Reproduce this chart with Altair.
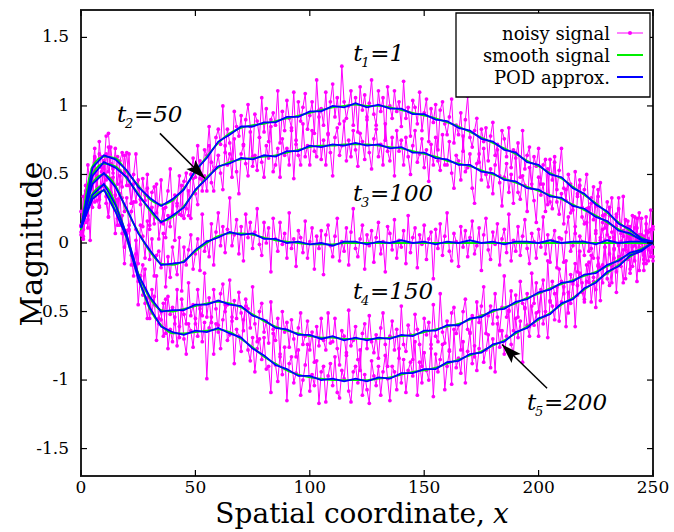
import altair as alt
import pandas as pd

# ---------------- data ----------------
X_KNOTS = list(range(0, 251, 5))
CURVES = ["t1", "t2", "t3", "t4", "t5"]

SMOOTH = {
    "t1": [0.10,0.56,0.63,0.62,0.52,0.42,0.32,0.28,0.31,0.40,0.52,0.63,0.73,0.80,0.84,0.86,0.87,0.89,0.91,0.93,0.95,0.97,0.99,1.00,1.01,1.00,1.00,0.99,0.97,0.95,0.93,0.91,0.88,0.85,0.81,0.77,0.73,0.69,0.65,0.60,0.56,0.51,0.47,0.41,0.35,0.29,0.22,0.15,0.09,0.04,0.00],
    "t2": [0.10,0.50,0.58,0.56,0.47,0.36,0.24,0.16,0.19,0.27,0.38,0.48,0.55,0.59,0.61,0.62,0.63,0.64,0.66,0.68,0.70,0.71,0.71,0.72,0.72,0.72,0.71,0.70,0.69,0.67,0.65,0.63,0.60,0.58,0.56,0.53,0.50,0.47,0.44,0.41,0.38,0.35,0.32,0.28,0.24,0.20,0.15,0.10,0.06,0.03,0.00],
    "t3": [0.10,0.44,0.50,0.42,0.24,0.08,-0.06,-0.15,-0.16,-0.13,-0.06,0.00,0.05,0.07,0.07,0.06,0.04,0.02,0.01,0.00,-0.01,-0.01,-0.01,0.00,0.00,0.00,0.00,0.00,0.00,0.00,0.00,0.00,0.00,0.00,0.00,0.00,0.00,0.00,0.00,0.00,0.00,0.00,0.00,0.00,0.00,0.00,0.00,0.00,0.00,0.00,0.00],
    "t4": [0.10,0.36,0.42,0.29,0.05,-0.22,-0.40,-0.49,-0.50,-0.48,-0.46,-0.44,-0.43,-0.44,-0.47,-0.52,-0.57,-0.61,-0.64,-0.66,-0.68,-0.69,-0.69,-0.70,-0.70,-0.70,-0.70,-0.69,-0.68,-0.67,-0.65,-0.63,-0.61,-0.59,-0.56,-0.53,-0.50,-0.47,-0.44,-0.40,-0.37,-0.33,-0.30,-0.27,-0.24,-0.21,-0.17,-0.12,-0.08,-0.04,0.00],
    "t5": [0.10,0.33,0.38,0.24,0.03,-0.25,-0.48,-0.60,-0.66,-0.66,-0.65,-0.64,-0.63,-0.65,-0.70,-0.76,-0.83,-0.88,-0.93,-0.96,-0.98,-0.99,-1.00,-1.00,-1.00,-1.00,-0.99,-0.98,-0.96,-0.94,-0.93,-0.91,-0.88,-0.85,-0.82,-0.79,-0.75,-0.71,-0.66,-0.61,-0.56,-0.51,-0.45,-0.40,-0.34,-0.28,-0.22,-0.16,-0.10,-0.05,0.00],
}

POD = {
    "t1": [0.11,0.55,0.64,0.61,0.53,0.41,0.33,0.27,0.32,0.39,0.53,0.62,0.74,0.79,0.85,0.85,0.88,0.88,0.92,0.92,0.96,0.96,1.00,0.99,1.02,0.99,1.01,0.98,0.98,0.94,0.94,0.90,0.89,0.84,0.82,0.76,0.74,0.68,0.66,0.59,0.57,0.50,0.48,0.40,0.36,0.28,0.23,0.14,0.10,0.03,0.01],
    "t2": [0.11,0.49,0.59,0.55,0.48,0.35,0.25,0.15,0.20,0.26,0.39,0.47,0.56,0.58,0.62,0.61,0.64,0.63,0.67,0.67,0.71,0.70,0.72,0.71,0.73,0.71,0.72,0.69,0.70,0.66,0.66,0.62,0.61,0.57,0.57,0.52,0.51,0.46,0.45,0.40,0.39,0.34,0.33,0.27,0.25,0.19,0.16,0.09,0.07,0.02,0.01],
    "t3": [0.11,0.43,0.51,0.41,0.25,0.07,-0.05,-0.16,-0.15,-0.14,-0.05,0.01,0.04,0.08,0.06,0.07,0.03,0.03,0.00,0.01,-0.01,0.00,-0.02,0.01,0.01,-0.01,0.01,0.00,0.02,0.00,0.01,-0.01,0.01,0.00,0.02,0.00,0.01,-0.01,0.01,0.01,0.00,0.02,0.00,0.01,0.01,-0.01,0.02,0.00,0.01,0.01,0.00],
    "t4": [0.11,0.35,0.43,0.28,0.06,-0.23,-0.39,-0.50,-0.49,-0.49,-0.45,-0.45,-0.42,-0.45,-0.46,-0.53,-0.56,-0.62,-0.63,-0.67,-0.67,-0.70,-0.68,-0.71,-0.69,-0.71,-0.69,-0.70,-0.67,-0.68,-0.64,-0.64,-0.60,-0.60,-0.55,-0.54,-0.49,-0.48,-0.43,-0.41,-0.36,-0.34,-0.29,-0.28,-0.23,-0.22,-0.16,-0.13,-0.07,-0.05,0.00],
    "t5": [0.11,0.32,0.39,0.23,0.04,-0.26,-0.47,-0.61,-0.65,-0.67,-0.64,-0.65,-0.62,-0.66,-0.69,-0.77,-0.82,-0.89,-0.92,-0.97,-0.97,-1.00,-0.99,-1.01,-0.99,-1.01,-0.98,-0.99,-0.95,-0.95,-0.92,-0.92,-0.87,-0.86,-0.81,-0.80,-0.74,-0.72,-0.65,-0.62,-0.55,-0.52,-0.44,-0.41,-0.33,-0.29,-0.21,-0.17,-0.09,-0.06,0.01],
}

NOISY = {
    "t1": [0.13,0.05,0.36,0.57,0.41,0.54,0.69,0.38,0.65,0.63,
           0.54,0.78,0.80,0.58,0.51,0.69,0.43,0.60,0.66,0.51,
           0.66,0.42,0.29,0.50,0.65,0.41,0.28,0.47,0.31,0.50,
           0.10,0.37,0.41,0.22,0.28,0.46,0.14,0.26,0.38,0.54,
           0.21,0.35,0.29,0.49,0.20,0.45,0.51,0.20,0.50,0.62,
           0.48,0.71,0.47,0.46,0.68,0.64,0.85,0.59,0.53,0.77,
           0.83,0.72,1.00,0.66,0.83,0.73,0.61,0.96,0.85,0.78,
           0.93,0.72,0.90,1.01,0.85,0.63,0.94,0.89,0.77,1.06,
           0.81,0.98,0.74,0.90,0.95,0.86,1.11,0.73,0.96,0.82,
           1.04,0.91,0.84,1.10,0.72,1.03,0.89,0.99,1.09,0.83,
           0.93,1.03,0.80,1.19,0.92,0.98,0.86,1.10,0.79,1.03,
           1.16,0.92,1.06,0.87,1.29,1.03,0.91,1.00,1.11,0.86,
           1.06,0.81,1.14,0.97,1.08,0.90,1.02,1.19,0.94,0.86,
           1.11,0.96,1.06,0.75,1.14,1.00,0.91,1.11,0.96,1.03,
           0.85,1.18,0.91,0.99,0.78,1.04,0.99,0.87,1.10,0.82,
           0.95,1.05,0.74,0.98,0.88,1.01,0.68,0.97,1.03,0.87,
           0.79,0.92,1.05,0.73,0.86,0.79,0.95,0.67,0.90,1.07,
           0.77,0.70,0.82,0.91,0.59,0.83,0.74,0.84,0.60,0.78,
           0.88,0.64,0.72,0.49,0.82,0.76,0.63,0.84,0.55,0.68,
           0.62,0.73,0.48,0.82,0.54,0.64,0.70,0.40,0.63,0.56,
           0.69,0.43,0.57,0.61,0.28,0.61,0.46,0.63,0.39,0.53,
           0.69,0.40,0.31,0.50,0.43,0.24,0.52,0.36,0.46,0.26,
           0.39,0.50,0.24,0.29,0.41,0.09,0.34,0.44,0.20,0.11,
           0.30,0.20,0.33,0.02,0.19,0.25,0.07,0.34,-0.02,0.12,
           0.03,0.20,-0.02,0.11,0.22,0.00,-0.12,0.09,0.03,-0.10,0.10],
    "t2": [0.12,0.10,0.42,0.11,0.47,0.49,0.63,0.41,0.74,0.52,
           0.41,0.65,0.52,0.70,0.54,0.30,0.63,0.53,0.41,0.64,
           0.42,0.65,0.29,0.43,0.30,0.46,0.32,0.12,0.35,0.40,
           0.13,0.26,0.14,0.43,0.03,0.15,0.25,0.04,0.20,0.12,
           0.31,0.02,0.27,0.21,0.42,0.18,0.25,0.38,0.18,0.47,
           0.36,0.28,0.60,0.38,0.49,0.38,0.71,0.44,0.38,0.55,
           0.64,0.51,0.39,0.71,0.57,0.65,0.48,0.76,0.52,0.36,
           0.65,0.71,0.58,0.49,0.81,0.56,0.64,0.53,0.77,0.59,
           0.48,0.71,0.62,0.85,0.52,0.57,0.69,0.48,0.76,0.64,
           0.69,0.57,0.82,0.47,0.75,0.64,0.57,0.87,0.63,0.71,
           0.57,0.82,0.67,0.63,0.97,0.61,0.75,0.57,0.80,0.66,
           0.49,0.77,0.84,0.64,0.71,0.89,0.60,0.75,0.63,0.82,
           0.68,0.56,0.80,0.74,0.61,0.92,0.66,0.54,0.76,0.83,
           0.63,0.72,0.57,0.87,0.67,0.60,0.77,0.49,0.82,0.67,
           0.75,0.57,0.77,0.63,0.50,0.71,0.82,0.59,0.65,0.76,
           0.55,0.68,0.45,0.72,0.57,0.77,0.60,0.53,0.79,0.57,
           0.57,0.74,0.51,0.40,0.64,0.60,0.46,0.78,0.52,0.55,
           0.65,0.40,0.29,0.58,0.65,0.46,0.69,0.50,0.41,0.54,
           0.36,0.57,0.68,0.44,0.27,0.48,0.58,0.37,0.50,0.29,
           0.66,0.37,0.32,0.49,0.42,0.23,0.55,0.43,0.31,0.15,
           0.48,0.35,0.43,0.23,0.54,0.30,0.25,0.59,0.30,0.21,
           0.36,0.14,0.39,0.43,0.22,0.27,0.07,0.34,0.42,0.19,
           0.14,0.25,-0.06,0.33,0.17,0.27,0.39,0.04,0.15,0.21,
           0.06,0.26,0.08,-0.04,0.12,0.33,0.01,0.05,0.17,-0.12,
           0.12,-0.06,0.19,0.02,-0.03,0.06,-0.20,0.19,-0.05,0.10,-0.13],
    "t3": [0.06,0.34,0.15,0.17,0.44,0.45,0.62,0.38,0.32,0.55,
           0.60,0.46,0.70,0.34,0.48,0.35,0.18,0.49,0.33,0.23,
           0.33,0.09,0.23,0.30,0.10,-0.15,0.13,0.05,-0.11,0.16,
           -0.12,0.03,-0.24,-0.09,-0.06,-0.18,0.07,-0.32,-0.10,-0.25,
           -0.03,-0.15,-0.23,0.04,-0.35,-0.03,-0.16,-0.05,0.06,-0.19,
           -0.08,0.03,-0.20,0.21,-0.06,0.01,-0.10,0.14,-0.16,0.08,
           0.22,-0.02,0.12,-0.07,0.10,0.33,-0.02,0.06,0.17,-0.08,
           0.12,-0.13,0.21,0.04,0.15,-0.04,0.08,0.25,-0.01,-0.09,
           0.15,0.00,0.11,-0.21,0.18,0.03,-0.06,0.15,-0.01,0.07,
           -0.11,0.22,-0.04,0.03,-0.17,0.09,0.04,-0.07,0.16,-0.11,
           0.01,0.11,-0.19,0.05,-0.04,0.09,-0.23,0.06,0.13,-0.02,
           -0.10,0.05,0.18,-0.13,0.01,-0.06,0.11,-0.16,0.08,0.25,
           -0.04,-0.10,0.03,0.13,-0.19,0.06,-0.02,0.09,-0.14,0.04,
           0.15,-0.08,0.01,-0.21,0.12,0.07,-0.05,0.17,-0.11,0.02,
           -0.03,0.09,-0.15,0.20,-0.07,0.04,0.11,-0.18,0.06,-0.01,
           0.13,-0.12,0.03,0.08,-0.26,0.10,-0.04,0.14,-0.09,0.05,
           0.22,-0.06,-0.13,0.07,0.01,-0.17,0.12,-0.03,0.09,-0.10,
           0.04,0.16,-0.08,-0.02,0.11,-0.20,0.06,0.18,-0.05,-0.12,
           0.08,-0.01,0.14,-0.16,0.03,0.10,-0.07,0.21,-0.13,0.02,
           -0.06,0.12,-0.09,0.05,0.17,-0.04,-0.15,0.07,0.01,-0.11,
           0.10,-0.03,0.19,-0.08,0.06,-0.14,0.02,0.09,-0.18,0.04,
           0.03,-0.14,0.08,0.19,-0.06,-0.02,0.12,-0.21,0.05,0.01,
           -0.09,0.15,0.26,-0.04,-0.11,0.07,-0.17,0.02,0.10,-0.03,
           0.14,-0.08,-0.19,0.04,0.21,-0.01,-0.12,0.09,-0.05,0.16,
           -0.22,0.06,0.11,-0.07,0.00,0.18,-0.15,-0.03,0.08,0.24,-0.10],
    "t4": [0.08,0.03,0.38,0.20,0.34,0.26,0.59,0.31,0.26,0.42,
           0.51,0.34,0.19,0.47,0.31,0.35,0.13,0.36,0.07,-0.15,
           0.09,0.10,-0.09,-0.24,0.02,-0.28,-0.24,-0.38,-0.19,-0.40,
           -0.55,-0.34,-0.45,-0.24,-0.59,-0.56,-0.44,-0.66,-0.39,-0.52,
           -0.47,-0.59,-0.34,-0.69,-0.41,-0.52,-0.59,-0.29,-0.53,-0.45,
           -0.59,-0.34,-0.48,-0.53,-0.22,-0.54,-0.40,-0.58,-0.34,-0.48,
           -0.65,-0.37,-0.30,-0.50,-0.45,-0.27,-0.57,-0.42,-0.55,-0.36,
           -0.51,-0.64,-0.41,-0.48,-0.62,-0.32,-0.59,-0.72,-0.50,-0.44,
           -0.65,-0.57,-0.73,-0.43,-0.63,-0.71,-0.55,-0.83,-0.50,-0.65,
           -0.58,-0.76,-0.56,-0.70,-0.83,-0.62,-0.51,-0.74,-0.68,-0.57,
           -0.78,-0.65,-0.87,-0.61,-0.75,-0.55,-0.71,-0.78,-0.51,-0.73,
           -0.72,-0.55,-0.77,-0.89,-0.64,-0.68,-0.82,-0.49,-0.75,-0.71,
           -0.61,-0.85,-0.93,-0.66,-0.59,-0.77,-0.53,-0.72,-0.80,-0.67,
           -0.84,-0.62,-0.51,-0.74,-0.90,-0.68,-0.57,-0.78,-0.63,-0.84,
           -0.46,-0.74,-0.79,-0.60,-0.67,-0.85,-0.52,-0.63,-0.74,-0.90,
           -0.55,-0.67,-0.58,-0.77,-0.45,-0.68,-0.72,-0.37,-0.65,-0.73,
           -0.57,-0.78,-0.51,-0.47,-0.66,-0.60,-0.78,-0.50,-0.41,-0.63,
           -0.66,-0.53,-0.83,-0.43,-0.58,-0.46,-0.32,-0.66,-0.53,-0.46,
           -0.59,-0.37,-0.54,-0.64,-0.47,-0.24,-0.54,-0.49,-0.35,-0.64,
           -0.38,-0.54,-0.28,-0.44,-0.48,-0.37,-0.61,-0.22,-0.44,-0.29,
           -0.50,-0.36,-0.27,-0.53,-0.13,-0.43,-0.28,-0.37,-0.46,-0.19,
           -0.28,-0.37,-0.13,-0.51,-0.23,-0.28,-0.15,-0.38,-0.06,-0.29,
           -0.41,-0.16,-0.29,-0.09,-0.25,-0.47,-0.11,-0.18,-0.29,-0.03,
           -0.22,0.04,-0.29,-0.11,-0.21,-0.02,-0.13,-0.29,-0.03,0.05,
           -0.19,-0.03,-0.13,0.18,-0.20,-0.05,0.05,-0.15,0.00,-0.07,0.12],
    "t5": [0.23,0.03,0.22,0.32,0.02,0.43,0.30,0.49,0.27,0.42,
           0.60,0.29,0.19,0.37,0.28,0.07,0.32,0.13,0.20,-0.03,
           0.07,0.13,-0.16,-0.16,-0.08,-0.45,-0.24,-0.16,-0.44,-0.55,
           -0.40,-0.51,-0.39,-0.71,-0.55,-0.50,-0.68,-0.41,-0.77,-0.63,
           -0.72,-0.54,-0.75,-0.61,-0.49,-0.70,-0.81,-0.59,-0.64,-0.76,
           -0.55,-0.68,-0.46,-0.72,-0.58,-0.99,-0.62,-0.54,-0.81,-0.59,
           -0.60,-0.77,-0.56,-0.45,-0.71,-0.67,-0.54,-0.88,-0.63,-0.68,
           -0.79,-0.56,-0.46,-0.78,-0.86,-0.69,-0.94,-0.77,-0.70,-0.85,
           -0.69,-0.92,-0.90,-1.09,-0.66,-0.89,-1.01,-0.81,-0.96,-0.76,
           -1.15,-0.88,-0.83,-1.02,-0.95,-0.78,-1.11,-1.00,-0.89,-0.74,
           -1.08,-0.96,-1.04,-0.86,-1.17,-0.94,-0.90,-1.16,-0.97,-0.88,
           -1.04,-0.83,-1.09,-1.13,-0.93,-0.99,-0.80,-1.08,-1.16,-0.94,
           -0.90,-1.02,-0.78,-1.11,-0.96,-1.07,-1.17,-0.86,-0.97,-1.04,
           -0.90,-1.11,-0.94,-0.82,-0.99,-1.15,-0.90,-0.94,-1.07,-0.77,
           -1.02,-0.85,-1.09,-0.93,-0.87,-0.97,-0.72,-1.11,-0.87,-1.02,
           -0.80,-0.93,-1.00,-0.74,-1.12,-0.81,-0.94,-0.85,-0.74,-1.07,
           -0.90,-0.79,-1.03,-0.63,-0.91,-0.84,-0.95,-0.72,-1.02,-0.79,
           -0.65,-0.88,-0.75,-0.93,-0.77,-0.53,-0.87,-0.78,-0.67,-0.91,
           -0.70,-0.94,-0.59,-0.76,-0.64,-0.81,-0.68,-0.50,-0.74,-0.81,
           -0.55,-0.69,-0.57,-0.87,-0.47,-0.60,-0.68,-0.46,-0.60,-0.51,
           -0.68,-0.34,-0.59,-0.50,-0.69,-0.42,-0.46,-0.56,-0.32,-0.57,
           -0.43,-0.32,-0.61,-0.36,-0.44,-0.30,-0.61,-0.31,-0.22,-0.36,
           -0.43,-0.28,-0.14,-0.43,-0.28,-0.34,-0.16,-0.42,-0.16,0.02,
           -0.26,-0.31,-0.17,-0.05,-0.36,-0.10,-0.17,-0.05,-0.26,-0.07,
           0.05,-0.17,-0.07,-0.28,0.06,0.02,-0.09,0.14,-0.13,0.01,-0.03],
}

X_TICKS = [0, 50, 100, 150, 200, 250]
X_TICK_LABELS = ["0", "50", "100", "150", "200", "250"]
Y_TICKS = [-1.5, -1, -0.5, 0, 0.5, 1, 1.5]
Y_TICK_LABELS = ["-1.5", "-1", "-0.5", "0", "0.5", "1", "1.5"]

# annotation labels: t_k = value
LABEL_X = [119.0, 15.7, 118.9, 118.9, 194.9]
LABEL_Y = [1.33, 0.883, 0.307, -0.409, -1.219]
LABEL_SUB = ["1", "2", "3", "4", "5"]
LABEL_REST = ["=1", "=50", "=100", "=150", "=200"]

# arrows (start -> tip)
ARROW_X = [[34.5, 54.2], [203.7, 184.0]]
ARROW_Y = [[0.80, 0.47], [-1.06, -0.74]]
ARROW_ANGLE = [135, 315]

LEGEND_LABELS = ["noisy signal", "smooth signal", "POD approx."]

MAGENTA = "#ff00ff"
GREEN = "#00ee00"
BLUE = "#0000ff"
FONT = "DejaVu Serif"

W, H = 572, 466

# ---------------- frames ----------------
rows = []
for c in CURVES:
    for i, v in enumerate(NOISY[c]):
        rows.append({"x": i, "y": v, "curve": c})
df_noisy = pd.DataFrame(rows)

rows = []
for c in CURVES:
    for xv, s, p in zip(X_KNOTS, SMOOTH[c], POD[c]):
        rows.append({"x": xv, "smooth": s, "pod": p, "curve": c})
df_lines = pd.DataFrame(rows)

df_labels = pd.DataFrame({"x": LABEL_X, "y": LABEL_Y, "sub": LABEL_SUB, "rest": LABEL_REST})

arrow_rows = []
for k, (xs_, ys_) in enumerate(zip(ARROW_X, ARROW_Y)):
    for j, (xv, yv) in enumerate(zip(xs_, ys_)):
        arrow_rows.append({"arrow": k, "order": j, "x": xv, "y": yv})
df_arrows = pd.DataFrame(arrow_rows)

xs = alt.Scale(domain=[0, 250], nice=False, zero=False)
ys = alt.Scale(domain=[-1.7, 1.7], nice=False, zero=False)

def X(field):
    return alt.X(field, scale=xs, axis=None)

def Y(field):
    return alt.Y(field, scale=ys, axis=None)

noisy_line = alt.Chart(df_noisy).mark_line(color=MAGENTA, strokeWidth=1).encode(
    x=X("x:Q"), y=Y("y:Q"), detail="curve:N")
noisy_pts = alt.Chart(df_noisy).mark_circle(color=MAGENTA, size=14, opacity=1).encode(
    x=X("x:Q"), y=Y("y:Q"))
smooth_line = alt.Chart(df_lines).mark_line(color=GREEN, strokeWidth=1.8, interpolate="monotone").encode(
    x=X("x:Q"), y=Y("smooth:Q"), detail="curve:N")
pod_line = alt.Chart(df_lines).mark_line(color=BLUE, strokeWidth=1.8).encode(
    x=X("x:Q"), y=Y("pod:Q"), detail="curve:N")

# inward ticks on all four sides + tick labels
df_xt = pd.DataFrame({"v": X_TICKS, "lab": X_TICK_LABELS})
df_yt = pd.DataFrame({"v": Y_TICKS, "lab": Y_TICK_LABELS})
TL = 6
tick_layers = [
    alt.Chart(df_xt).mark_rule(color="black", strokeWidth=1.2).encode(
        x=X("v:Q"), y=alt.value(H), y2=alt.value(H - TL)),
    alt.Chart(df_xt).mark_rule(color="black", strokeWidth=1.2).encode(
        x=X("v:Q"), y=alt.value(0), y2=alt.value(TL)),
    alt.Chart(df_yt).mark_rule(color="black", strokeWidth=1.2).encode(
        y=Y("v:Q"), x=alt.value(0), x2=alt.value(TL)),
    alt.Chart(df_yt).mark_rule(color="black", strokeWidth=1.2).encode(
        y=Y("v:Q"), x=alt.value(W), x2=alt.value(W - TL)),
    alt.Chart(df_xt).mark_text(font=FONT, fontSize=17, color="black", align="center",
                               baseline="alphabetic").encode(
        x=X("v:Q"), y=alt.value(H + 17), text="lab:N"),
    alt.Chart(df_yt).mark_text(font=FONT, fontSize=17, color="black", align="right",
                               baseline="middle").encode(
        y=Y("v:Q"), x=alt.value(-12), text="lab:N"),
]

# annotations
lab_t = alt.Chart(df_labels).mark_text(text="t", font=FONT, fontStyle="italic", fontSize=23,
                                       align="left", baseline="alphabetic", color="black").encode(
    x=X("x:Q"), y=Y("y:Q"))
lab_sub = alt.Chart(df_labels).mark_text(font=FONT, fontStyle="italic", fontSize=13, dx=8, dy=6,
                                         align="left", baseline="alphabetic", color="black").encode(
    x=X("x:Q"), y=Y("y:Q"), text="sub:N")
lab_rest = alt.Chart(df_labels).mark_text(font=FONT, fontStyle="italic", fontSize=23, dx=17,
                                          align="left", baseline="alphabetic", color="black").encode(
    x=X("x:Q"), y=Y("y:Q"), text="rest:N")

arrow_lines = alt.Chart(df_arrows).mark_line(color="black", strokeWidth=1.5).encode(
    x=X("x:Q"), y=Y("y:Q"), detail="arrow:N", order="order:Q")
HEAD = "M0,0 L-0.32,1 L0,0.8 L0.32,1 Z"
arrow_heads = []
for k in range(len(ARROW_X)):
    tip = pd.DataFrame({"x": [ARROW_X[k][1]], "y": [ARROW_Y[k][1]]})
    arrow_heads.append(
        alt.Chart(tip).mark_point(shape=HEAD, filled=True, color="black", size=1600,
                                  angle=ARROW_ANGLE[k], opacity=1).encode(
            x=X("x:Q"), y=Y("y:Q")))

# axis titles
one = pd.DataFrame({"k": [0]})
y_title = alt.Chart(one).mark_text(text="Magnitude", font=FONT, fontSize=30, angle=270,
                                   align="center", baseline="alphabetic", color="black").encode(
    x=alt.value(-39), y=alt.value(234))
x_title = alt.Chart(one).mark_text(text="Spatial coordinate,", font=FONT, fontSize=28,
                                   align="right", baseline="alphabetic", color="black").encode(
    x=alt.value(404), y=alt.value(513))
x_title_x = alt.Chart(one).mark_text(text="x", font=FONT, fontSize=28, fontStyle="italic",
                                     align="left", baseline="alphabetic", color="black").encode(
    x=alt.value(412), y=alt.value(513))

# legend (custom: text right-aligned, symbol to the right)
leg_box = alt.Chart(one).mark_rect(fill="white", stroke="black", strokeWidth=1.3).encode(
    x=alt.value(375), x2=alt.value(569), y=alt.value(3), y2=alt.value(87))
leg_layers = [leg_box]
leg_colors = [MAGENTA, GREEN, BLUE]
leg_widths = [1, 2, 2]
for i, lab in enumerate(LEGEND_LABELS):
    yb = 30 + 22 * i
    yl = 23 + 22 * i
    leg_layers.append(alt.Chart(one).mark_text(text=lab, font=FONT, fontSize=18, align="right",
                                               baseline="alphabetic", color="black").encode(
        x=alt.value(529), y=alt.value(yb)))
    leg_layers.append(alt.Chart(one).mark_rule(color=leg_colors[i], strokeWidth=leg_widths[i]).encode(
        x=alt.value(536), x2=alt.value(562), y=alt.value(yl)))
leg_layers.append(alt.Chart(one).mark_circle(color=MAGENTA, size=16, opacity=1).encode(
    x=alt.value(549), y=alt.value(23)))

chart = alt.layer(
    noisy_line, noisy_pts, smooth_line, pod_line,
    *tick_layers,
    lab_t, lab_sub, lab_rest,
    arrow_lines, *arrow_heads,
    y_title, x_title, x_title_x,
    *leg_layers,
).properties(
    width=W, height=H,
    padding={"left": 81, "top": 10, "right": 21, "bottom": 56},
    autosize=alt.AutoSizeParams(type="none"),
    background="white",
).configure_view(
    stroke="#222", strokeWidth=2
)

chart.save("out.html", embed_options={"renderer": "svg", "actions": False})
